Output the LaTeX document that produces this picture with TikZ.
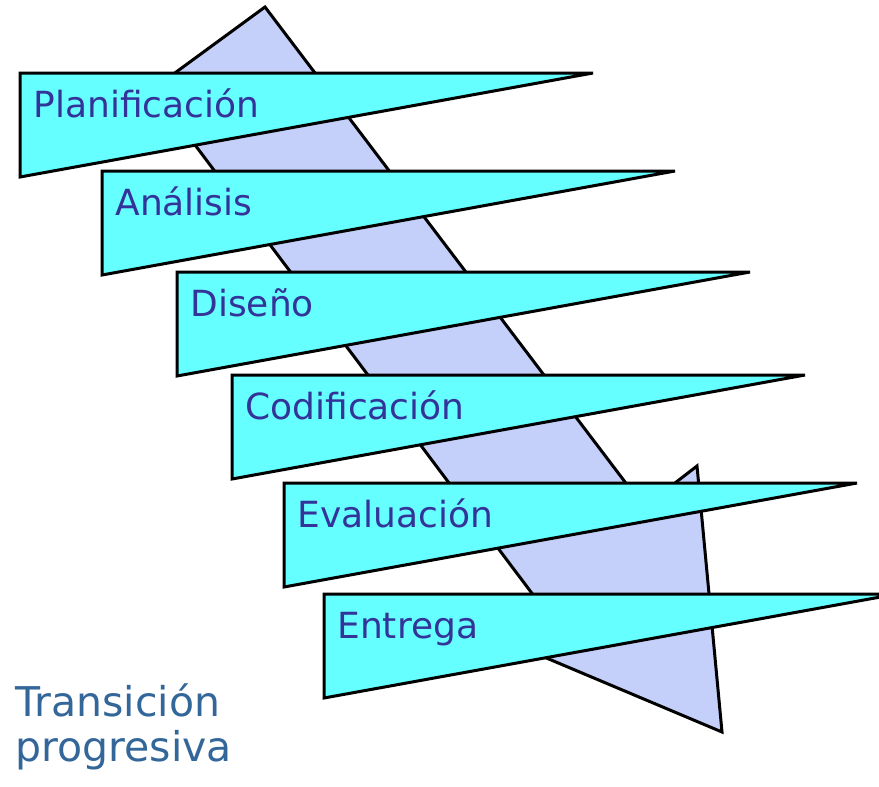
\documentclass[tikz,border=0pt]{standalone}
\usepackage{fontspec}
\setmainfont{DejaVu Sans}
\definecolor{bandfill}{HTML}{66FFFF}
\definecolor{arrowfill}{HTML}{C4D0F9}
\definecolor{phasetext}{HTML}{333399}
\definecolor{notetext}{HTML}{336699}

\begin{document}
\begin{tikzpicture}[x=0.5pt, y=-0.5pt, line join=miter,
  band/.style = {draw, fill=bandfill, line width=1.5pt},
  flow/.style = {draw, fill=arrowfill, line width=1.5pt},
  phase/.style = {anchor=base west, inner sep=0pt, text=phasetext,
    font=\fontsize{18}{21}\selectfont}]
  \useasboundingbox (0,0) rectangle (879,787);
  % big arrow behind the phases
  \filldraw[flow] (265,7) -- (644,507) -- (697,466) -- (722,732)
    -- (480,630) -- (552,620) -- (153,89) -- cycle;
  % the phases, top to bottom
  \foreach \x/\y/\name/\txt in {20/73/plan/Planificación, 102/171/anal/Análisis,
      177/272/dis/Diseño, 232/375/cod/Codificación, 284/483/eval/Evaluación,
      324/594/entr/Entrega}
  {
    \filldraw[band] (\x,\y) -- ++(573,0) -- (\x,\y+104) -- cycle;
    \node[phase] (\name) at (\x+13,\y+44) {\txt};
  }
  \node[anchor=base west, inner sep=0pt, align=left, text=notetext,
    font=\fontsize{20.5}{22.5}\selectfont] (trans) at (15,761)
    {Transición\\progresiva};
\end{tikzpicture}
\end{document}
